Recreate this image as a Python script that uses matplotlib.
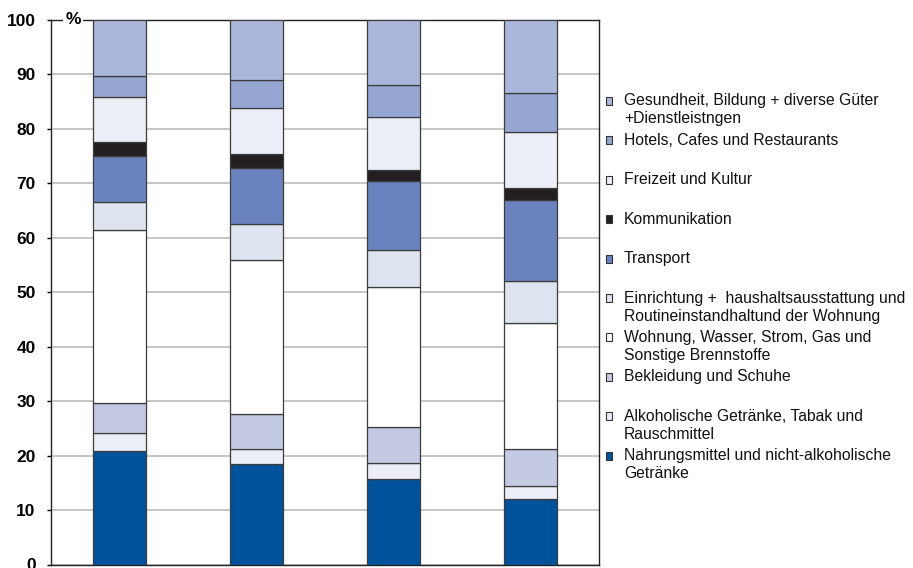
import matplotlib.pyplot as plt
from matplotlib.patches import Rectangle

plt.rcParams['font.family'] = ['Liberation Sans', 'DejaVu Sans']

# bars from left to right, segments from bottom to top
categories = ['1', '2', '3', '4']
labels = [
    'Nahrungsmittel und nicht-alkoholische\nGetränke',
    'Alkoholische Getränke, Tabak und\nRauschmittel',
    'Bekleidung und Schuhe',
    'Wohnung, Wasser, Strom, Gas und\nSonstige Brennstoffe',
    'Einrichtung +  haushaltsausstattung und\nRoutineinstandhaltund der Wohnung',
    'Transport',
    'Kommunikation',
    'Freizeit und Kultur',
    'Hotels, Cafes und Restaurants',
    'Gesundheit, Bildung + diverse Güter\n+Dienstleistngen',
]
nahrung = [20.8, 18.4, 15.7, 12.1]
alkohol = [3.3, 2.9, 3.0, 2.4]
bekleidung = [5.6, 6.3, 6.5, 6.8]
wohnung = [31.7, 28.4, 25.7, 23.0]
einrichtung = [5.2, 6.5, 6.9, 7.7]
transport = [8.5, 10.3, 12.6, 15.0]
kommunikation = [2.5, 2.5, 2.1, 2.1]
freizeit = [8.2, 8.6, 9.6, 10.3]
hotels = [4.0, 5.1, 5.9, 7.2]
gesundheit = [10.2, 11.0, 12.0, 13.4]
series = [nahrung, alkohol, bekleidung, wohnung, einrichtung,
          transport, kommunikation, freizeit, hotels, gesundheit]
colors = ['#00529b', '#ebeef7', '#c5cae3', '#ffffff', '#dde3ef',
          '#6a83be', '#231f20', '#eceff7', '#94a6d1', '#aab7da']

W, H = 913, 568
fig = plt.figure(figsize=(W / 100, H / 100), dpi=100)
ax = fig.add_axes([51 / W, 1 - 564.5 / H, (599 - 51) / W, (564.5 - 20) / H])

x = range(len(categories))
bottom = [0] * len(categories)
for vals, c in zip(series, colors):
    ax.bar(x, vals, bottom=bottom, width=0.39, color=c,
           edgecolor='#3c3c3c', linewidth=0.9, zorder=3)
    bottom = [b + v for b, v in zip(bottom, vals)]

ax.set_xlim(-0.5, 3.5)
ax.set_ylim(0, 100)
ax.set_xticks([])
ax.set_yticks(range(0, 101, 10))
ax.tick_params(axis='y', length=3, width=1, pad=8, labelsize=12.5)
for t in ax.get_yticklabels():
    t.set_fontweight('bold')
ax.yaxis.grid(True, color='#bcbcbc', linewidth=1.2)
ax.set_axisbelow(True)
for s in ax.spines.values():
    s.set_color('#222222')
    s.set_linewidth(1)

ax.text(0.04, 1.0, '%', transform=ax.transAxes, ha='center', va='center',
        fontsize=12.5, fontweight='bold', zorder=5,
        bbox=dict(facecolor='white', edgecolor='none', pad=1.5))

# legend, top entry first
y0, step = 101, 39.4
for i, (lab, c) in enumerate(zip(labels[::-1], colors[::-1])):
    y = y0 + i * step
    fig.add_artist(Rectangle((606 / W, 1 - (y + 4) / H), 6 / W, 8 / H,
                             transform=fig.transFigure, facecolor=c,
                             edgecolor='#333333', linewidth=0.8))
    for j, line in enumerate(lab.split('\n')):
        fig.text(624 / W, 1 - (y + j * 18) / H, line, ha='left',
                 va='center', fontsize=11.3, color='#111111')

fig.savefig('out.png', dpi=100)
